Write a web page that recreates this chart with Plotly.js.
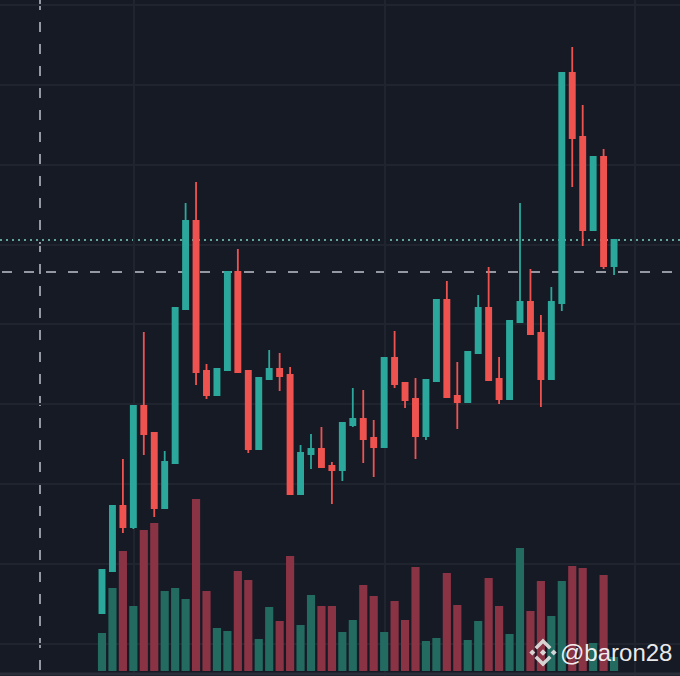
<!DOCTYPE html>
<html>
<head>
<meta charset="utf-8">
<script src="https://cdn.plot.ly/plotly-3.0.1.min.js"></script>
<style>html,body{margin:0;padding:0;background:#161A25;overflow:hidden}#chart{width:680px;height:676px}</style>
</head>
<body>
<div id="chart"></div>
<script>
const openPrices = [63,105,170,149,270,243,168,213,367,455,305,281,306,404,305,227,297,307,301,182,222,227,210,206,251,257,238,229,318,293,277,240,295,376,280,274,323,368,297,277,354,374,343,297,373,603,539,446,519,410];
const highPrices = [107,170,217,270,344,243,225,368,473,494,312,308,404,427,305,298,326,323,309,231,242,249,214,253,288,286,256,318,345,293,298,296,376,395,314,324,381,409,319,355,473,407,361,389,603,629,571,519,527,436];
const lowPrices = [62,105,143,147,221,159,168,213,367,291,277,281,306,304,223,227,297,285,182,182,207,209,172,195,249,213,199,229,288,268,217,236,295,279,247,274,323,296,272,277,354,342,269,297,365,489,430,446,407,401];
const closePrices = [106,170,149,270,242,168,214,368,455,304,281,307,404,304,227,298,307,300,182,223,227,209,206,253,257,237,229,318,292,276,240,296,376,279,274,324,368,296,277,355,374,342,297,374,603,538,446,519,410,436];
const volumes = [38,83,120,65,141,148,80,83,72,172,80,43,40,100,91,32,64,50,115,46,76,65,65,39,51,86,75,39,70,51,104,30,33,98,66,31,50,93,65,37,123,60,90,55,90,105,103,28,96,14];
const watermark = "@baron28";

const W = 680, H = 676;
const index = openPrices.map((_, i) => i);
const TEAL = "#2BA89B", RED = "#EF5350";
const VOL_TEAL = "#236A61", VOL_RED = "#8A3345";
const GRID = "#20242F";
const px = x => x / W, py = y => 1 - y / H;

function poly(points, cx, cy) {
  return "M" + points.map(p => px(cx + p[0]) + "," + py(cy + p[1])).join("L") + "Z";
}
const cx = 543, cy = 652.5;
const topChevron = [[0,-14],[8.5,-5.5],[6,-3],[0,-9],[-6,-3],[-8.5,-5.5]];
const logoParts = [
  [[0,-3.2],[3.2,0],[0,3.2],[-3.2,0]],
  [[-10.7,-3],[-7.7,0],[-10.7,3],[-13.7,0]],
  [[10.7,-3],[13.7,0],[10.7,3],[7.7,0]],
  topChevron,
  topChevron.map(p => [p[0], -p[1]])
];
const logoShapes = logoParts.map(part => ({
  type: "path", xref: "paper", yref: "paper", layer: "above",
  path: poly(part, cx, cy), fillcolor: "rgba(225,225,225,0.92)", line: {width: 0}
}));

const traces = [
  {
    type: "bar", x: index, y: volumes, yaxis: "y",
    marker: {color: index.map(i => closePrices[i] >= openPrices[i] ? VOL_TEAL : VOL_RED), line: {width: 0}},
    hoverinfo: "skip"
  },
  {
    type: "candlestick", x: index, open: openPrices, high: highPrices, low: lowPrices, close: closePrices,
    yaxis: "y2", width: 0.62, whiskerwidth: 0,
    increasing: {line: {color: TEAL, width: 1.8}, fillcolor: TEAL},
    decreasing: {line: {color: RED, width: 1.8}, fillcolor: RED},
    hoverinfo: "skip"
  }
];

const layout = {
  width: W, height: H,
  margin: {l: 0, r: 0, t: 0, b: 0, pad: 0},
  paper_bgcolor: "#161A25", plot_bgcolor: "#161A25",
  showlegend: false, bargap: 0.22,
  xaxis: {
    range: [-102 / 10.45, (W - 102) / 10.45], tick0: 3.05, dtick: 24,
    showgrid: true, gridcolor: GRID, gridwidth: 2, zeroline: false,
    showticklabels: false, ticks: "", showline: false,
    rangeslider: {visible: false}, fixedrange: true
  },
  yaxis: {
    range: [-5, H - 5], showgrid: false, zeroline: false, showticklabels: false, ticks: "", fixedrange: true
  },
  yaxis2: {
    range: [0, H], overlaying: "y", side: "right", tick0: 32, dtick: 79.9,
    showgrid: true, gridcolor: GRID, gridwidth: 2, zeroline: false, showticklabels: false, ticks: "", fixedrange: true
  },
  shapes: [
    {type: "line", xref: "paper", yref: "paper", x0: px(40), x1: px(40), y0: py(0), y1: py(H), layer: "below",
     line: {color: "#9598A1", width: 2, dash: "10px,12px"}},
    {type: "line", xref: "paper", yref: "paper", x0: px(2), x1: 1, y0: py(272), y1: py(272), layer: "below",
     line: {color: "#9598A1", width: 2, dash: "10px,12px"}},
    {type: "line", xref: "paper", yref: "paper", x0: 0, x1: 1, y0: py(240), y1: py(240), layer: "below",
     line: {color: "#5FA39B", width: 2, dash: "2px,4px"}},
    {type: "line", xref: "paper", yref: "paper", x0: 0, x1: 1, y0: py(674), y1: py(674), layer: "above",
     line: {color: "#2A2E39", width: 3}},
    ...logoShapes
  ],
  annotations: [{
    text: watermark, xref: "paper", yref: "paper", x: px(559), y: py(652.5), xanchor: "left", yanchor: "middle",
    showarrow: false, borderpad: 0,
    font: {family: "Liberation Sans, Arial, sans-serif", size: 24, color: "rgba(255,255,255,0.92)"}
  }]
};
Plotly.newPlot("chart", traces, layout, {displayModeBar: false, staticPlot: true});
</script>
</body>
</html>
